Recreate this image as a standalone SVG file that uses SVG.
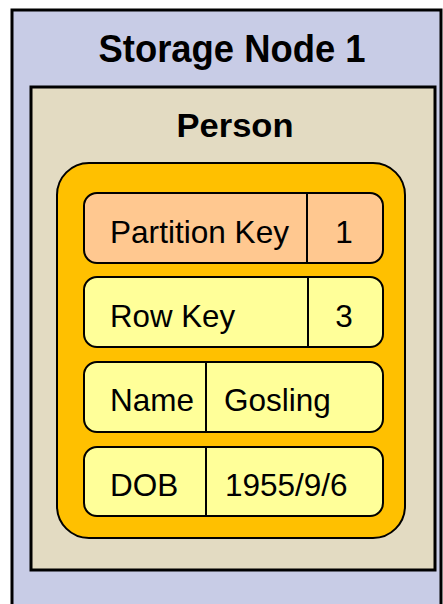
<svg xmlns="http://www.w3.org/2000/svg" width="443" height="604" viewBox="0 0 443 604">
  <style>
    .title { font-family: "Liberation Sans", Arial, sans-serif; font-weight: bold; fill: #000; text-anchor: middle; }
    .cell { font-family: "Liberation Sans", Arial, sans-serif; font-size: 31.5px; fill: #000; }
    .row { stroke: #000; stroke-width: 2; }
    .div { stroke: #000; stroke-width: 2; }
  </style>
  <rect width="443" height="604" fill="#ffffff"/>

  <g id="storage-node">
    <rect x="12" y="10" width="429" height="620" fill="#C8CCE6" stroke="#000" stroke-width="3"/>
    <text class="title" x="232" y="62" font-size="38" textLength="267" lengthAdjust="spacingAndGlyphs">Storage Node 1</text>
  </g>

  <g id="person">
    <rect x="31" y="87" width="404" height="483" fill="#E3DBC2" stroke="#000" stroke-width="3"/>
    <text class="title" x="235" y="137" font-size="33" textLength="117" lengthAdjust="spacingAndGlyphs">Person</text>
  </g>

  <g id="entity">
    <rect x="57" y="163" width="348" height="375" rx="32" ry="32" fill="#FFC000" stroke="#000" stroke-width="2"/>
  </g>

  <g id="partition-key">
    <rect class="row" x="84" y="193" width="299" height="70" rx="13" ry="13" fill="#FFC890"/>
    <line class="div" x1="307" y1="193" x2="307" y2="263"/>
    <text class="cell" x="110" y="243" textLength="179" lengthAdjust="spacingAndGlyphs">Partition Key</text>
    <text class="cell" x="344" y="243" text-anchor="middle">1</text>
  </g>

  <g id="row-key">
    <rect class="row" x="84" y="277" width="299" height="70" rx="13" ry="13" fill="#FFFF99"/>
    <line class="div" x1="308" y1="277" x2="308" y2="347"/>
    <text class="cell" x="110" y="327" textLength="125" lengthAdjust="spacingAndGlyphs">Row Key</text>
    <text class="cell" x="344" y="327" text-anchor="middle">3</text>
  </g>

  <g id="name">
    <rect class="row" x="84" y="362" width="299" height="70" rx="13" ry="13" fill="#FFFF99"/>
    <line class="div" x1="206" y1="362" x2="206" y2="432"/>
    <text class="cell" x="110" y="411">Name</text>
    <text class="cell" x="224" y="411">Gosling</text>
  </g>

  <g id="dob">
    <rect class="row" x="84" y="447" width="299" height="69" rx="13" ry="13" fill="#FFFF99"/>
    <line class="div" x1="206" y1="447" x2="206" y2="516"/>
    <text class="cell" x="110" y="496">DOB</text>
    <text class="cell" x="225" y="496">1955/9/6</text>
  </g>

  <g id="connectors"/>
</svg>
